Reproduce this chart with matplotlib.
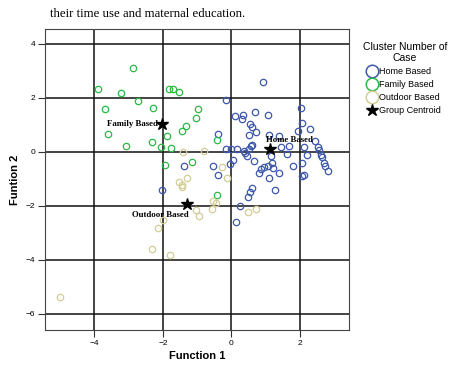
import matplotlib
matplotlib.use("Agg")
import matplotlib.pyplot as plt
from matplotlib.lines import Line2D

# discriminant function scores
home_x = [0.91, -0.15, 2.04, 0.11, 0.33, 0.31, 0.70, 1.06, 2.06, 2.30, 1.93, 0.55,
          0.60, 0.72, 0.50, -0.40, 2.45, 2.53, 2.56, 2.62, 2.65, 2.71, 2.81, 2.74,
          2.12, 2.21, 2.05, 2.13, 2.06, 1.69, 1.44, 1.38, 1.11, 1.63, 1.81, 1.38,
          1.11, 1.28, 1.14, 1.17, 1.20, 1.08, 0.94, 0.87, 0.81, 0.65, 0.58, 0.61,
          0.50, 0.46, 0.39, 0.36, 0.15, -0.01, -0.15, 0.05, -0.03, -0.39, -0.55,
          -1.37, -2.03, 0.61, 0.53, 0.48, 0.24, 0.13]
home_y = [2.60, 1.91, 1.63, 1.31, 1.37, 1.21, 1.48, 1.37, 1.05, 0.84, 0.77, 1.03,
          0.90, 0.74, 0.63, 0.67, 0.38, 0.16, 0.07, -0.11, -0.21, -0.40, -0.71, -0.54,
          0.19, -0.11, -0.41, -0.88, -0.91, 0.22, 0.16, 0.59, 0.62, -0.07, -0.53, -0.79,
          -0.97, -1.43, -0.17, -0.40, -0.59, -0.54, -0.57, -0.64, -0.78, -0.33, 0.21, 0.26,
          0.10, -0.15, -0.05, 0.01, 0.11, 0.10, 0.10, -0.30, -0.46, -0.85, -0.53,
          -0.54, -1.41, -1.35, -1.51, -1.68, -2.00, -2.60]

family_x = [-2.88, -3.88, -3.23, -2.72, -3.70, -2.30, -1.83, -1.71, -1.53, -0.97,
            -1.04, -1.31, -1.43, -1.87, -3.61, -2.31, -3.07, -2.05, -1.75, -1.14,
            -1.93, -0.42, -0.42]
family_y = [3.10, 2.31, 2.16, 1.89, 1.59, 1.63, 2.33, 2.31, 2.22, 1.60,
            1.25, 0.94, 0.77, 0.59, 0.64, 0.37, 0.20, 0.17, 0.12, -0.38,
            -0.49, 0.44, -1.62]

outdoor_x = [-1.40, -1.29, -1.53, -1.43, -0.80, -0.28, -0.13, -1.44, -0.53, -0.44,
             -0.56, -1.03, -0.95, 0.48, 0.71, -1.99, -2.15, -2.33, -1.78, -4.99]
outdoor_y = [-0.02, -0.96, -1.12, -1.31, 0.01, -0.57, -0.99, -1.22, -1.84, -1.90,
             -2.12, -2.17, -2.37, -2.23, -2.12, -2.52, -2.84, -3.59, -3.81, -5.40]

centroid_names = ["Home Based", "Family Based", "Outdoor Based"]
centroid_x = [1.12, -2.03, -1.29]
centroid_y = [0.11, 1.03, -1.94]

blue = "#3E58AC"
green = "#2EB848"
beige = "#D3CE97"

fig = plt.figure(figsize=(4.66, 3.71), dpi=100)
ax = fig.add_axes([0.097, 0.111, 0.652, 0.811])

ax.set_xlim(-5.43, 3.43)
ax.set_ylim(-6.6, 4.55)
ax.set_xticks([-4, -2, 0, 2])
ax.set_yticks([-6, -4, -2, 0, 2, 4])
ax.grid(True, color="#111111", linewidth=1.1, zorder=0)
ax.set_axisbelow(True)
for s in ax.spines.values():
    s.set_color("#444444")
    s.set_linewidth(0.8)
ax.tick_params(length=5, width=0.8, color="#333333", labelsize=6, pad=2)
for lab in ax.get_xticklabels() + ax.get_yticklabels():
    lab.set_family("Liberation Sans")

mk = dict(marker="o", linestyle="none", markersize=4.6, markerfacecolor="none",
          markeredgewidth=0.9, zorder=3)
ax.plot(home_x, home_y, markeredgecolor=blue, **mk)
ax.plot(family_x, family_y, markeredgecolor=green, **mk)
ax.plot(outdoor_x, outdoor_y, markeredgecolor=beige, **mk)

ax.plot(centroid_x, centroid_y, marker="*", linestyle="none", color="black",
        markersize=9, zorder=5)

# centroid labels
offsets = [(-3, 6, "left"), (-3, 0, "right"), (1, -8, "right")]
for name, cx, cy, (dx, dy, ha) in zip(centroid_names, centroid_x, centroid_y, offsets):
    ax.annotate(name, (cx, cy), xytext=(dx, dy), textcoords="offset points",
                ha=ha, va="center", fontsize=6.3, fontweight="bold",
                family="Liberation Serif", zorder=6)

ax.set_xlabel("Function 1", fontsize=8, fontweight="bold", family="Liberation Sans", labelpad=3)
ax.set_ylabel("Funtion 2", fontsize=8, fontweight="bold", family="Liberation Sans", labelpad=4)

handles = [
    Line2D([], [], marker="o", linestyle="none", markersize=9, markerfacecolor="none",
           markeredgecolor=blue, markeredgewidth=1.1, label="Home Based"),
    Line2D([], [], marker="o", linestyle="none", markersize=9, markerfacecolor="none",
           markeredgecolor=green, markeredgewidth=1.1, label="Family Based"),
    Line2D([], [], marker="o", linestyle="none", markersize=9, markerfacecolor="none",
           markeredgecolor=beige, markeredgewidth=1.1, label="Outdoor Based"),
    Line2D([], [], marker="*", linestyle="none", markersize=9, color="black",
           label="Group Centroid"),
]
leg = fig.legend(handles=handles, title="Cluster Number of\nCase", loc="upper left",
                 bbox_to_anchor=(0.765, 0.905), frameon=False,
                 title_fontsize=7.5, handlelength=0.8, handletextpad=0.35,
                 labelspacing=0.45, borderpad=0.2,
                 prop={"family": "Liberation Sans", "size": 6.5})
leg.get_title().set_family("Liberation Sans")
leg.get_title().set_multialignment("center")
leg._legend_box.align = "center"

fig.text(0.107, 0.963, "their time use and maternal education.", fontsize=9.2,
         family="Liberation Serif", va="center", ha="left")

fig.savefig("out.png", dpi=100)
